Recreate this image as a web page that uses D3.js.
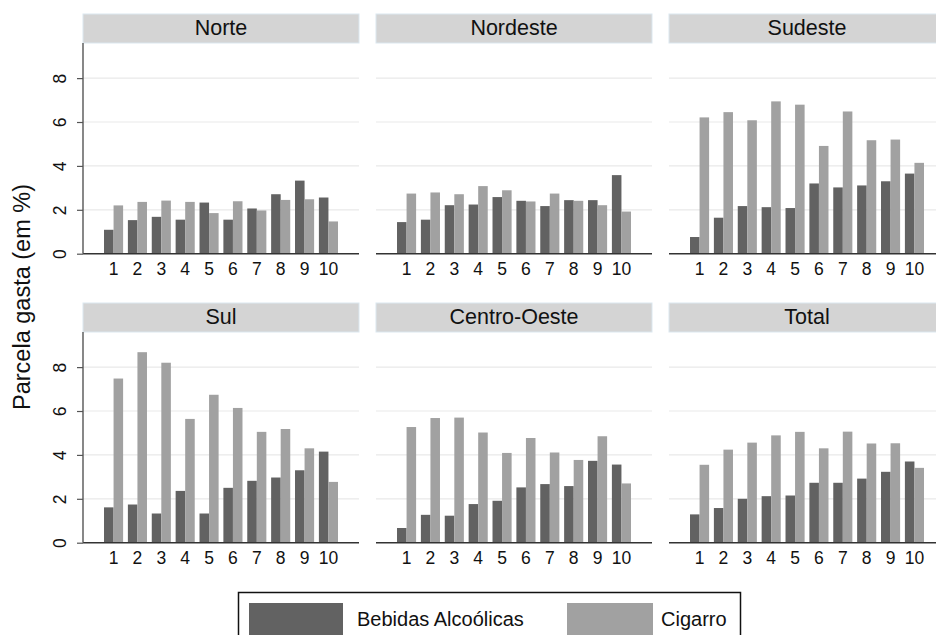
<!DOCTYPE html>
<html>
<head>
<meta charset="utf-8">
<script src="https://cdn.jsdelivr.net/npm/d3@7"></script>
<style>
  html, body { margin: 0; padding: 0; background: #fff; }
  svg { display: block; font-family: "Liberation Sans", Arial, Helvetica, sans-serif; }
</style>
</head>
<body>
<svg id="chart" width="936" height="635"></svg>
<script>
// ---- data ----
const regions = ["Norte", "Nordeste", "Sudeste", "Sul", "Centro-Oeste", "Total"];
const deciles = ["1", "2", "3", "4", "5", "6", "7", "8", "9", "10"];
const seriesNames = ["Bebidas Alcoólicas", "Cigarro"];
const yTicks = [0, 2, 4, 6, 8];

const alcNorte      = [1.09, 1.53, 1.68, 1.55, 2.33, 1.55, 2.06, 2.71, 3.33, 2.56];
const cigNorte      = [2.20, 2.36, 2.42, 2.36, 1.85, 2.39, 1.97, 2.45, 2.48, 1.47];
const alcNordeste   = [1.44, 1.55, 2.21, 2.24, 2.58, 2.41, 2.17, 2.44, 2.44, 3.58];
const cigNordeste   = [2.74, 2.79, 2.71, 3.08, 2.89, 2.38, 2.74, 2.41, 2.21, 1.92];
const alcSudeste    = [0.76, 1.64, 2.17, 2.12, 2.08, 3.20, 3.02, 3.11, 3.30, 3.65];
const cigSudeste    = [6.21, 6.45, 6.08, 6.94, 6.79, 4.91, 6.48, 5.17, 5.20, 4.14];
const alcSul        = [1.61, 1.74, 1.33, 2.36, 1.33, 2.50, 2.82, 2.97, 3.30, 4.15];
const cigSul        = [7.48, 8.68, 8.20, 5.64, 6.74, 6.14, 5.05, 5.18, 4.30, 2.77];
const alcCentroOeste= [0.67, 1.27, 1.23, 1.76, 1.91, 2.52, 2.67, 2.58, 3.73, 3.56];
const cigCentroOeste= [5.27, 5.68, 5.70, 5.02, 4.09, 4.77, 4.11, 3.77, 4.85, 2.70];
const alcTotal      = [1.29, 1.58, 2.00, 2.12, 2.15, 2.73, 2.73, 2.92, 3.23, 3.70];
const cigTotal      = [3.55, 4.24, 4.56, 4.89, 5.05, 4.30, 5.06, 4.52, 4.53, 3.41];

const alcByRegion = [alcNorte, alcNordeste, alcSudeste, alcSul, alcCentroOeste, alcTotal];
const cigByRegion = [cigNorte, cigNordeste, cigSudeste, cigSul, cigCentroOeste, cigTotal];

// ---- layout ----
const colors = ["#626262", "#a1a1a1"];
const panelW = 276, panelStepX = 293, panelX0 = 83;
const headerH = 29;
const rowTops = [14, 303];          // header tops
const plotH = 210.7;
const yMax = 9.6;
const fontFam = "Liberation Sans, Arial, Helvetica, sans-serif";

const svg = d3.select("#chart");
svg.append("rect").attr("width", 936).attr("height", 635).attr("fill", "#fff");

regions.forEach((reg, i) => {
  const col = i % 3, row = Math.floor(i / 3);
  const x0 = panelX0 + col * panelStepX;
  const hTop = rowTops[row];
  const pTop = hTop + headerH;
  const pBot = pTop + plotH;

  const x = d3.scaleBand().domain(deciles).range([x0, x0 + panelW])
    .paddingInner(0.2).paddingOuter(0.88);
  const xs = d3.scaleBand().domain(seriesNames).range([0, x.bandwidth()]);
  const y = d3.scaleLinear().domain([0, yMax]).range([pBot, pTop]);

  const g = svg.append("g");

  // header strip
  g.append("rect").attr("x", x0).attr("y", hTop).attr("width", panelW).attr("height", headerH)
    .attr("fill", "#d4d4d4").attr("stroke", "#dbe7ef").attr("stroke-width", 1);
  g.append("text").attr("x", x0 + panelW / 2).attr("y", hTop + 20.5)
    .attr("text-anchor", "middle").attr("font-size", 21.5).attr("fill", "#111").text(reg);

  // gridlines
  g.selectAll(".grid").data(yTicks.filter(t => t > 0)).join("line")
    .attr("x1", x0).attr("x2", x0 + panelW)
    .attr("y1", d => y(d)).attr("y2", d => y(d))
    .attr("stroke", "#e9e9e9").attr("stroke-width", 1.2);

  // bars
  const data = deciles.map((d, k) => ({ d, vals: [alcByRegion[i][k], cigByRegion[i][k]] }));
  const grp = g.selectAll(".dec").data(data).join("g")
    .attr("transform", d => `translate(${x(d.d)},0)`);
  grp.selectAll("rect").data(d => d.vals.map((v, s) => ({ s: seriesNames[s], v, c: colors[s] })))
    .join("rect")
    .attr("x", d => xs(d.s)).attr("width", xs.bandwidth())
    .attr("y", d => y(d.v)).attr("height", d => y(0) - y(d.v))
    .attr("fill", d => d.c);

  // x axis (labels only)
  const xAxis = d3.axisBottom(x).tickSize(0).tickPadding(9);
  const gx = g.append("g").attr("transform", `translate(0,${pBot})`).call(xAxis)
    .attr("font-size", 17.5).attr("font-family", fontFam);
  gx.select(".domain").remove();
  gx.selectAll("text").attr("fill", "#111");
  g.append("line").attr("x1", x0).attr("x2", x0 + panelW).attr("y1", pBot).attr("y2", pBot)
    .attr("stroke", "#333").attr("stroke-width", 1.4);

  // y axis on left column
  if (col === 0) {
    const yAxis = d3.axisLeft(y).tickValues(yTicks).tickSize(6).tickPadding(4);
    const gy = g.append("g").attr("transform", `translate(${x0},0)`).call(yAxis)
      .attr("font-size", 17.5).attr("font-family", fontFam);
    gy.select(".domain").attr("stroke", "#555").attr("stroke-width", 1.4)
      .attr("d", `M0,${pBot}V${pTop}`);
    gy.selectAll(".tick line").attr("stroke", "#555").attr("stroke-width", 1.2);
    gy.selectAll(".tick text")
      .attr("fill", "#111")
      .attr("text-anchor", "middle").attr("x", 0).attr("dy", 0)
      .attr("transform", "translate(-17,0) rotate(-90)");
  }
});

// y axis title
svg.append("text").attr("transform", "translate(30,297) rotate(-90)")
  .attr("text-anchor", "middle").attr("font-size", 23.5).attr("fill", "#111")
  .text("Parcela gasta (em %)");

// legend
const lg = svg.append("g");
lg.append("rect").attr("x", 238.5).attr("y", 592.5).attr("width", 502).attr("height", 60)
  .attr("fill", "#fff").attr("stroke", "#111").attr("stroke-width", 1.5);
const legendItems = [
  { name: seriesNames[0], color: colors[0], sx: 249, sw: 94, tx: 357 },
  { name: seriesNames[1], color: colors[1], sx: 567, sw: 86, tx: 661 }
];
legendItems.forEach(it => {
  lg.append("rect").attr("x", it.sx).attr("y", 603).attr("width", it.sw).attr("height", 35)
    .attr("fill", it.color);
  lg.append("text").attr("x", it.tx).attr("y", 626).attr("font-size", 20).attr("fill", "#111")
    .text(it.name);
});
</script>
</body>
</html>
